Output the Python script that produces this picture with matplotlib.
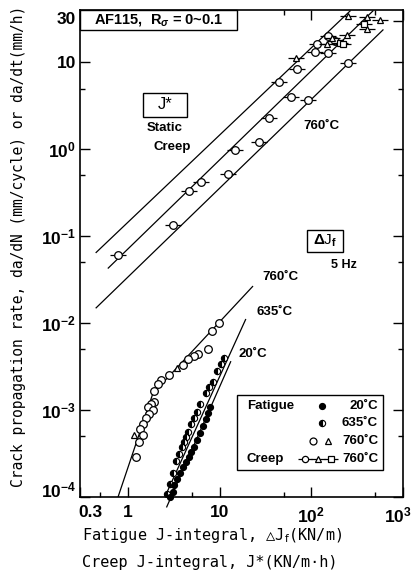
import matplotlib
matplotlib.use('Agg')
import matplotlib.pyplot as plt
from matplotlib.patches import Rectangle
from matplotlib.transforms import ScaledTranslation

plt.rcParams['font.family'] = ['Liberation Sans', 'DejaVu Sans']
plt.rcParams['mathtext.fontset'] = 'custom'
plt.rcParams['mathtext.rm'] = 'Liberation Sans:bold'
plt.rcParams['mathtext.bf'] = 'Liberation Sans:bold'
plt.rcParams['mathtext.it'] = 'Liberation Sans:italic:bold'

# creep data (J*, da/dt) at 760 C
creep_circ_x = [153, 182, 116, 110, 153, 70.5, 44.9, 60.6, 92.7, 252, 34.9, 14.9, 27.2, 12.5, 6.2, 4.6, 3.08, 0.78]
creep_circ_y = [20.1, 17.6, 16.3, 13.2, 12.8, 8.4, 5.9, 4.0, 3.67, 9.8, 2.28, 0.97, 1.2, 0.515, 0.417, 0.328, 0.133, 0.0615]
creep_tri_x = [252, 406, 562, 406, 246, 169, 149, 68.7]
creep_tri_y = [34.2, 33.3, 30.7, 24.2, 20.6, 19.1, 16.3, 11.2]
creep_sq_x = [377, 207, 223]
creep_sq_y = [27.7, 16.7, 16.3]

# creep fit lines
creep_lines_x = [[0.45, 265], [0.61, 470], [0.45, 605]]
creep_lines_y = [[0.065, 39], [0.043, 39], [0.015, 23.6]]

# fatigue data (dJf, da/dN)
fat20_x = [2.88, 3.08, 3.16, 3.41, 3.67, 3.96, 4.27, 4.6, 4.84, 5.22, 5.62, 6.06, 6.53, 7.04, 7.41, 7.79]
fat20_y = [1.0e-4, 1.15e-4, 1.38e-4, 1.62e-4, 1.9e-4, 2.23e-4, 2.55e-4, 2.9e-4, 3.32e-4, 3.79e-4,
           4.56e-4, 5.5e-4, 6.6e-4, 7.96e-4, 9.3e-4, 1.09e-3]
fat635_x = [2.65, 2.86, 3.08, 3.33, 3.58, 3.86, 4.06, 4.27, 4.49, 4.84, 5.22, 5.62, 6.06, 7.04, 7.59, 8.4, 9.27, 10.3, 11.3]
fat635_y = [1.09e-4, 1.42e-4, 1.9e-4, 2.61e-4, 3.15e-4, 3.79e-4, 4.32e-4, 4.94e-4, 5.64e-4, 6.97e-4,
            8.17e-4, 9.6e-4, 1.19e-3, 1.58e-3, 1.86e-3, 2.12e-3, 2.84e-3, 3.43e-3, 4.02e-3]
fat760_x = [9.75, 8.19, 7.41, 5.77, 5.22, 4.49, 3.96, 2.79, 2.28, 2.12, 1.92, 1.92, 1.78, 1.65,
            1.87, 1.69, 1.57, 1.46, 1.35, 1.46, 1.32, 1.22]
fat760_y = [0.0101, 0.00817, 0.00507, 0.00444, 0.00421, 0.00388, 0.00331, 0.00254, 0.00222, 0.002,
            0.00166, 0.00124, 0.00117, 0.00109, 0.001, 0.0009, 0.00081, 0.00069, 0.000605, 0.000516,
            0.000428, 0.000288]
fat760_tri_x = [3.41, 1.16]
fat760_tri_y = [0.00306, 0.000516]

# fatigue fit lines
line760_x = [0.78, 1.87, 22.9]
line760_y = [1.0e-4, 1.55e-3, 0.0264]
line635_x = [2.59, 19.2]
line635_y = [1.06e-4, 0.011]
line20_x = [2.65, 13.2]
line20_y = [7.7e-5, 3.6e-3]

# axis ticks
xmajor = [0.3, 1, 10, 100, 1000]
xmajor_labels = ['0.3', '1', '10', '$10^2$', '$10^3$']
xminor = [0.5, 5, 50, 500]
ymajor = [1e-4, 1e-3, 1e-2, 1e-1, 1, 10, 30]
ymajor_labels = ['$10^{-4}$', '$10^{-3}$', '$10^{-2}$', '$10^{-1}$', '$10^0$', '10', '30']
yminor = [5e-4, 5e-3, 5e-2, 0.5, 5]


def creep_points(ax, x, y, marker, size=5.5, **kw):
    # open marker with a short horizontal bar through it ("-o-")
    ax.plot(x, y, '_', color='k', ms=12, mew=0.9, ls='none', **kw)
    ax.plot(x, y, marker, mfc='white', mec='k', ms=size, mew=0.9, ls='none', **kw)


def nudge(label, dx_px, dy_px, fig):
    label.set_transform(label.get_transform() +
                        ScaledTranslation(dx_px / 100, dy_px / 100, fig.dpi_scale_trans))


fig = plt.figure(figsize=(4.11, 5.78), dpi=100)
ax = fig.add_axes([0.1946, 0.1401, 0.7859, 0.8426])
ax.set_xscale('log')
ax.set_yscale('log')
ax.set_xlim(0.3, 1000)
ax.set_ylim(1e-4, 40)

# creep lines and points
for lx, ly in zip(creep_lines_x, creep_lines_y):
    ax.plot(lx, ly, color='k', lw=0.9)
creep_points(ax, creep_circ_x, creep_circ_y, 'o')
creep_points(ax, creep_tri_x, creep_tri_y, '^', size=5)
creep_points(ax, creep_sq_x, creep_sq_y, 's', size=5)

# fatigue lines and points
ax.plot(line760_x, line760_y, color='k', lw=0.9)
ax.plot(line635_x, line635_y, color='k', lw=0.9)
ax.plot(line20_x, line20_y, color='k', lw=0.9, clip_on=False)
ax.plot(fat760_x, fat760_y, 'o', mfc='white', mec='k', ms=5.5, mew=0.9, ls='none')
ax.plot(fat760_tri_x, fat760_tri_y, '^', mfc='white', mec='k', ms=5, mew=0.9, ls='none')
ax.plot(fat635_x, fat635_y, 'o', fillstyle='left', mfc='k', mfcalt='white', mec='k',
        ms=4.5, mew=0.8, ls='none')
ax.plot(fat20_x, fat20_y, 'o', mfc='k', mec='k', ms=4.2, ls='none', clip_on=False)

# ticks
ax.set_xticks(xmajor)
xlabs = ax.set_xticklabels(xmajor_labels, fontsize=12.5, fontweight='bold')
ax.set_xticks(xminor, minor=True)
ax.set_xticklabels([], minor=True)
ax.set_yticks(ymajor)
ylabs = ax.set_yticklabels(ymajor_labels, fontsize=12.5, fontweight='bold')
ax.set_yticks(yminor, minor=True)
ax.set_yticklabels([], minor=True)
ax.tick_params(which='both', direction='in', top=True, right=True, width=1.0)
ax.tick_params(which='major', length=7)
ax.tick_params(which='minor', length=3.5)
ax.tick_params(axis='x', which='major', pad=6)
ax.tick_params(axis='y', which='major', pad=3)
for s in ax.spines.values():
    s.set_linewidth(1.2)
nudge(xlabs[0], 10, 0, fig)
nudge(xlabs[-1], -5, 0, fig)
nudge(ylabs[0], 0, 8, fig)
nudge(ylabs[-1], 0, 3, fig)

# title box
ax.add_patch(Rectangle((0, 0.959), 0.486, 0.041, transform=ax.transAxes,
                       fc='white', ec='k', lw=1.0, clip_on=False, zorder=3))
ax.text(0.243, 0.979, r'AF115,  R$_{\sigma}$ = 0~0.1', transform=ax.transAxes,
        ha='center', va='center', fontsize=10.5, fontweight='bold', zorder=4)

# J* box
ax.add_patch(Rectangle((0.195, 0.78), 0.136, 0.05, transform=ax.transAxes,
                       fill=False, ec='k', lw=1.0))
ax.text(0.263, 0.805, 'J*', transform=ax.transAxes, ha='center', va='center', fontsize=12)
ax.text(0.263, 0.758, 'Static', transform=ax.transAxes, ha='center', va='center',
        fontsize=9.5, fontweight='bold')
ax.text(0.285, 0.719, 'Creep', transform=ax.transAxes, ha='center', va='center',
        fontsize=9.5, fontweight='bold')
ax.text(0.746, 0.762, '760˚C', transform=ax.transAxes, ha='center', va='center',
        fontsize=9.5, fontweight='bold')

# dJf box
ax.add_patch(Rectangle((0.703, 0.503), 0.111, 0.045, transform=ax.transAxes,
                       fill=False, ec='k', lw=1.0))
ax.text(0.759, 0.526, r'$\Delta$J$_{\mathrm{f}}$', transform=ax.transAxes,
        ha='center', va='center', fontsize=11)
ax.text(0.817, 0.476, '5 Hz', transform=ax.transAxes, ha='center', va='center',
        fontsize=9, fontweight='bold')
ax.text(0.622, 0.452, '760˚C', transform=ax.transAxes, ha='center', va='center',
        fontsize=9.5, fontweight='bold')
ax.text(0.601, 0.380, '635˚C', transform=ax.transAxes, ha='center', va='center',
        fontsize=9.5, fontweight='bold')
ax.text(0.536, 0.294, '20˚C', transform=ax.transAxes, ha='center', va='center',
        fontsize=9.5, fontweight='bold')

# legend box (drawn by hand)
ax.add_patch(Rectangle((0.486, 0.055), 0.452, 0.154, transform=ax.transAxes,
                       fill=False, ec='k', lw=1.0))
rows = [0.187, 0.152, 0.115, 0.078]
lab_kw = dict(transform=ax.transAxes, va='center', fontsize=9.5, fontweight='bold')
ax.text(0.517, rows[0], 'Fatigue', ha='left', **lab_kw)
ax.text(0.517, rows[3], 'Creep', ha='left', **lab_kw)
for r, lab in zip(rows, ['20˚C', '635˚C', '760˚C', '760˚C']):
    ax.text(0.923, r, lab, ha='right', **lab_kw)
ax.plot([0.749], [rows[0]], 'o', mfc='k', mec='k', ms=4.2, transform=ax.transAxes)
ax.plot([0.749], [rows[1]], 'o', fillstyle='left', mfc='k', mfcalt='white', mec='k',
        ms=4.5, mew=0.8, transform=ax.transAxes)
ax.plot([0.721], [rows[2]], 'o', mfc='white', mec='k', ms=5, mew=0.9, transform=ax.transAxes)
ax.plot([0.768], [rows[2]], '^', mfc='white', mec='k', ms=5, mew=0.9, transform=ax.transAxes)
for xx, mk in zip([0.697, 0.737, 0.777], ['o', '^', 's']):
    ax.plot([xx], [rows[3]], '_', color='k', ms=10, mew=0.9, transform=ax.transAxes)
    ax.plot([xx], [rows[3]], mk, mfc='white', mec='k', ms=4.5, mew=0.9, transform=ax.transAxes)

# axis labels
mono = ['DejaVu Sans Mono', 'DejaVu Sans']
fig.text(0.044, 0.574, 'Crack propagation rate, da/dN (mm/cycle) or da/dt(mm/h)',
         rotation=90, ha='center', va='center', fontsize=10.5, family=mono)
fig.text(0.2, 0.074, r'Fatigue J-integral, △J$_{\mathrm{f}}$(KN/m)', ha='left', va='center',
         fontsize=11, family=mono, math_fontfamily='dejavusans')
fig.text(0.2, 0.026, 'Creep J-integral, J*(KN/m·h)', ha='left', va='center',
         fontsize=11, family=mono)

fig.savefig('out.png', dpi=100)
